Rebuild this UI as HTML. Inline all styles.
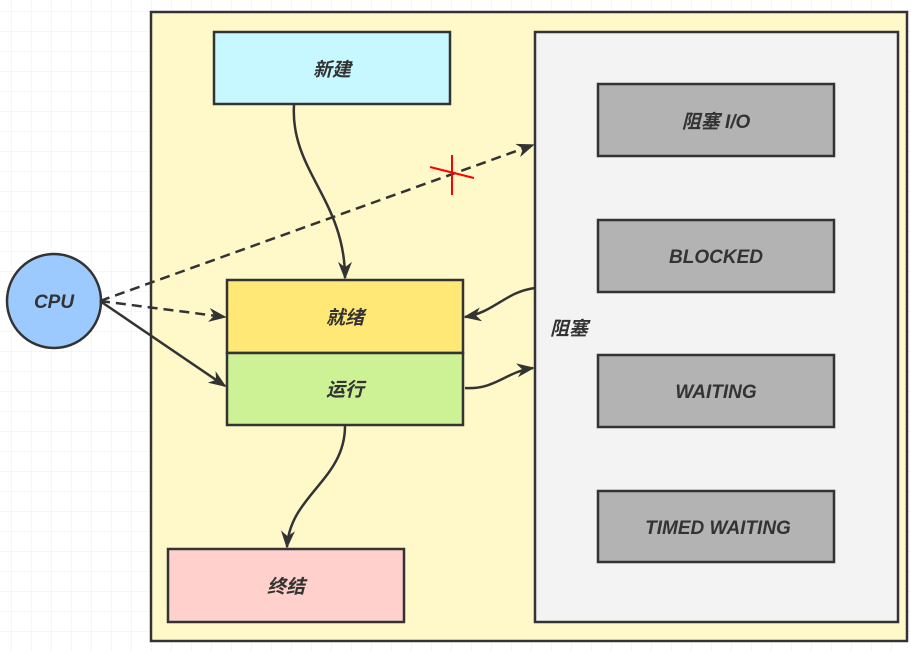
<!DOCTYPE html>
<html><head><meta charset="utf-8"><style>
html,body{margin:0;padding:0;background:#fff;}
svg{display:block;}
text{font-family:"Liberation Sans","Noto Sans CJK SC",sans-serif;font-style:italic;font-weight:bold;fill:#333;font-size:19px;}
</style></head><body>
<svg width="911" height="651" viewBox="0 0 911 651" xmlns="http://www.w3.org/2000/svg">
<defs>
<pattern id="g" width="20" height="20" patternUnits="userSpaceOnUse" x="12" y="12">
<path d="M20 0V20M0 20H20" fill="none" stroke="#ececec" stroke-width="1"/>
</pattern>
<marker id="b" viewBox="0 0 10 10" markerWidth="18" markerHeight="14" refX="9" refY="5" orient="auto" markerUnits="userSpaceOnUse" preserveAspectRatio="none">
<path d="M0,0 L10,5 L0,10 L3,5 Z" fill="#333"/>
</marker>
</defs>
<rect width="911" height="651" fill="url(#g)"/>
<rect x="151" y="12" width="756" height="629" fill="#fff9c9" stroke="#333" stroke-width="2.5"/>
<rect x="535" y="32" width="363" height="590" fill="#f3f3f3" stroke="#333" stroke-width="2.5"/>
<text x="550" y="335" font-size="17">阻塞</text>

<rect x="598" y="84" width="236" height="72" fill="#b3b3b3" stroke="#333" stroke-width="2.5"/>
<text x="716" y="128" text-anchor="middle">阻塞 I/O</text>
<rect x="598" y="220" width="236" height="72" fill="#b3b3b3" stroke="#333" stroke-width="2.5"/>
<text x="716" y="263" text-anchor="middle">BLOCKED</text>
<rect x="598" y="355" width="236" height="72" fill="#b3b3b3" stroke="#333" stroke-width="2.5"/>
<text x="716" y="398" text-anchor="middle">WAITING</text>
<rect x="598" y="491" width="236" height="71" fill="#b3b3b3" stroke="#333" stroke-width="2.5"/>
<text x="718" y="534" text-anchor="middle">TIMED WAITING</text>

<rect x="214" y="32" width="236" height="72" fill="#c8f8ff" stroke="#333" stroke-width="2.5"/>
<text x="332" y="76" text-anchor="middle">新建</text>
<rect x="227" y="280" width="236" height="73" fill="#ffe875" stroke="#333" stroke-width="2.5"/>
<text x="345" y="324" text-anchor="middle">就绪</text>
<rect x="227" y="353" width="236" height="72" fill="#cdf296" stroke="#333" stroke-width="2.5"/>
<text x="345" y="396" text-anchor="middle">运行</text>
<rect x="168" y="549" width="236" height="73" fill="#ffd0cc" stroke="#333" stroke-width="2.5"/>
<text x="286" y="593" text-anchor="middle">终结</text>

<circle cx="54" cy="301" r="47" fill="#9ccaff" stroke="#333" stroke-width="2.5"/>
<text x="54" y="308" text-anchor="middle">CPU</text>

<g fill="none" stroke="#333" stroke-width="2.5">
<path d="M294,105 C290,170 345,200 345,278" marker-end="url(#b)"/>
<path d="M100,301 L533,145" stroke-dasharray="10,6" marker-end="url(#b)"/>
<path d="M100,301 L225,317" stroke-dasharray="10,6" marker-end="url(#b)"/>
<path d="M100,301 L225,386" marker-end="url(#b)"/>
<path d="M535,288 C505,292 495,312 465,317" marker-end="url(#b)"/>
<path d="M465,388 C495,390 505,372 533,368" marker-end="url(#b)"/>
<path d="M345,426 C345,480 290,495 287,547" marker-end="url(#b)"/>
</g>
<g stroke="#f00" stroke-width="2">
<line x1="452" y1="155" x2="452" y2="195"/>
<line x1="430" y1="167" x2="474" y2="178"/>
</g>
</svg>
</body></html>
